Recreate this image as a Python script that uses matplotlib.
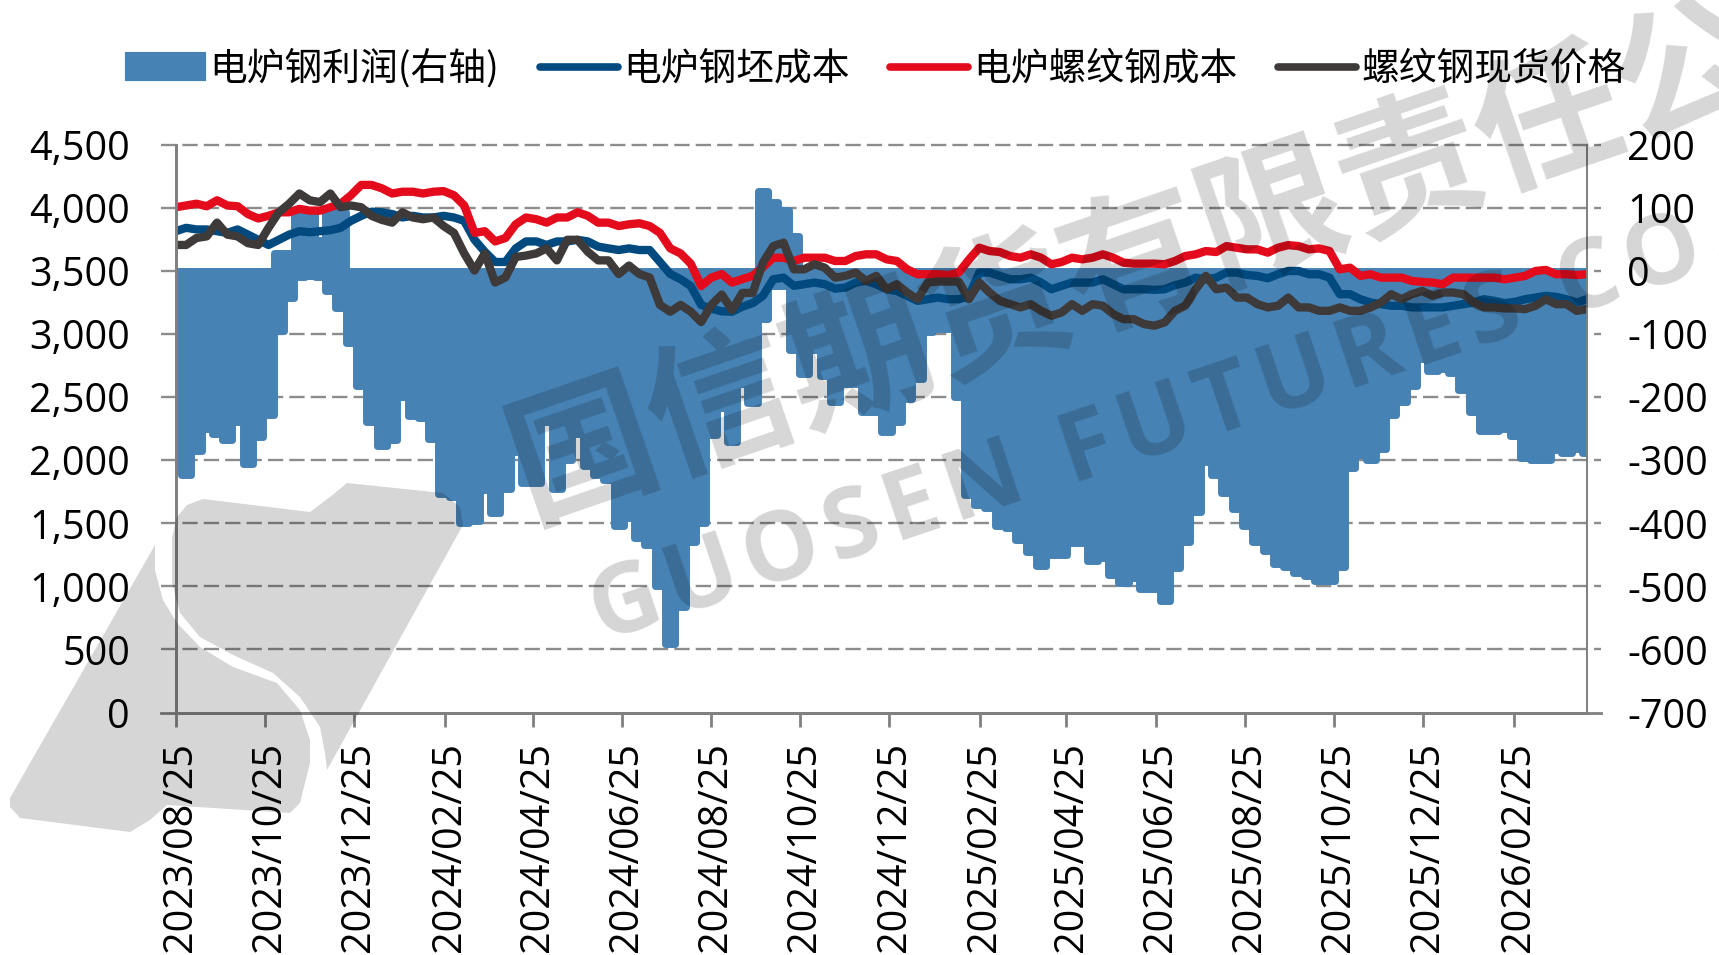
"""Electric-furnace steel profit vs. billet cost, rebar cost and rebar spot price."""

import matplotlib

matplotlib.use("Agg")
import matplotlib.pyplot as plt
import pandas as pd
from matplotlib.lines import Line2D
from matplotlib.patches import Patch, Polygon
from matplotlib.transforms import ScaledTranslation

START_DATE = "2023-08-25"
END_DATE = "2026-04-16"
PROFIT_LABEL = "电炉钢利润(右轴)"
BILLET_LABEL = "电炉钢坯成本"
REBAR_LABEL = "电炉螺纹钢成本"
SPOT_LABEL = "螺纹钢现货价格"

# roughly weekly readings, lower edge of the profit area (right axis)
profit_low = [
    -315, -323, -285, -250, -258, -268, -239, -306, -263, -228,
    -95, -43, -10, -8, -10, -32, -59, -114, -182, -239,
    -277, -268, -200, -230, -233, -266, -353, -358, -399, -396,
    -347, -383, -345, -287, -336, -336, -239, -345, -300, -258,
    -309, -323, -331, -404, -391, -423, -434, -500, -592, -532,
    -429, -399, -260, -217, -271, -179, -209, -76, -24, -24,
    -126, -163, -126, -166, -208, -179, -179, -224, -224, -255,
    -239, -203, -171, -97, -92, -92, -200, -355, -371, -376,
    -405, -408, -426, -445, -468, -450, -450, -432, -432, -460,
    -455, -482, -495, -487, -505, -505, -524, -471, -429, -382,
    -303, -324, -352, -378, -405, -430, -444, -465, -469, -479,
    -483, -491, -491, -470, -313, -292, -300, -282, -229, -208,
    -182, -139, -158, -155, -161, -189, -224, -253, -253, -250,
    -261, -297, -300, -300, -284, -289, -282, -289,
]
# upper edge, only above zero around the two positive spells
profit_high = [
    0, 0, 0, 0, 0, 0, 0, 0, 0, 0,
    28, 28, 93, 93, 49, 93, 93, 0, 0, 0,
    0, 0, 0, 0, 0, 0, 0, 0, 0, 0,
    0, 0, 0, 0, 0, 0, 0, 0, 0, 0,
    0, 0, 0, 0, 0, 0, 0, 0, 0, 0,
    0, 0, 0, 0, 0, 0, 0, 126, 110, 97,
    55, 0, 0, 0, 0, 0, 0, 0, 0, 0,
    0, 0, 0, 0, 0, 0, 0, 0, 0, 0,
    0, 0, 0, 0, 0, 0, 0, 0, 0, 0,
    0, 0, 0, 0, 0, 0, 0, 0, 0, 0,
    0, 0, 0, 0, 0, 0, 0, 0, 0, 0,
    0, 0, 0, 0, 0, 0, 0, 0, 0, 0,
    0, 0, 0, 0, 0, 0, 0, 0, 0, 0,
    0, 0, 0, 0, 0, 0, 0, 0,
]
billet_cost = [
    3815, 3842, 3829, 3829, 3815, 3802, 3829, 3788, 3747, 3706,
    3747, 3788, 3815, 3807, 3815, 3823, 3842, 3897, 3937, 3970,
    3965, 3951, 3924, 3937, 3924, 3924, 3937, 3924, 3897, 3747,
    3652, 3571, 3571, 3679, 3734, 3734, 3706, 3734, 3734, 3747,
    3734, 3693, 3679, 3666, 3679, 3666, 3666, 3571, 3476, 3435,
    3380, 3231, 3200, 3180, 3177, 3217, 3245, 3303, 3434, 3447,
    3382, 3395, 3408, 3395, 3360, 3368, 3408, 3421, 3395, 3355,
    3342, 3303, 3263, 3276, 3289, 3276, 3276, 3300, 3487, 3487,
    3461, 3434, 3434, 3447, 3408, 3355, 3382, 3408, 3408, 3408,
    3434, 3395, 3355, 3355, 3355, 3350, 3355, 3387, 3408, 3447,
    3434, 3447, 3487, 3487, 3468, 3461, 3442, 3474, 3500, 3500,
    3474, 3474, 3447, 3316, 3316, 3276, 3250, 3237, 3224, 3224,
    3211, 3211, 3211, 3211, 3224, 3237, 3250, 3276, 3263, 3245,
    3255, 3276, 3289, 3303, 3295, 3276, 3250, 3276,
]
rebar_cost = [
    4005, 4019, 4033, 4013, 4060, 4019, 4013, 3951, 3916, 3937,
    3965, 3965, 3992, 3978, 3978, 4005, 4033, 4100, 4182, 4182,
    4155, 4114, 4128, 4128, 4114, 4128, 4133, 4100, 4019, 3802,
    3815, 3734, 3761, 3870, 3924, 3910, 3883, 3924, 3924, 3965,
    3937, 3883, 3883, 3856, 3870, 3878, 3856, 3802, 3679, 3639,
    3557, 3380, 3448, 3475, 3408, 3435, 3462, 3530, 3605, 3605,
    3579, 3605, 3605, 3605, 3579, 3579, 3618, 3632, 3632, 3592,
    3579, 3513, 3474, 3474, 3474, 3468, 3487, 3590, 3684, 3658,
    3650, 3618, 3605, 3632, 3605, 3553, 3571, 3605, 3592, 3605,
    3632, 3605, 3566, 3558, 3558, 3558, 3553, 3579, 3618, 3632,
    3658, 3650, 3697, 3684, 3671, 3671, 3645, 3684, 3705, 3697,
    3671, 3679, 3658, 3513, 3526, 3461, 3474, 3447, 3447, 3447,
    3421, 3413, 3408, 3395, 3447, 3447, 3447, 3447, 3447, 3434,
    3447, 3461, 3500, 3508, 3474, 3474, 3468, 3474,
]
spot_price = [
    3706, 3706, 3761, 3774, 3883, 3788, 3774, 3720, 3706, 3842,
    3965, 4033, 4114, 4060, 4046, 4114, 4005, 4019, 4005, 3937,
    3905, 3883, 3965, 3924, 3910, 3924, 3856, 3802, 3639, 3503,
    3639, 3408, 3448, 3611, 3622, 3639, 3679, 3584, 3747, 3747,
    3652, 3584, 3584, 3476, 3543, 3476, 3448, 3231, 3177, 3231,
    3177, 3095, 3231, 3313, 3190, 3326, 3326, 3566, 3697, 3724,
    3513, 3513, 3553, 3526, 3447, 3461, 3487, 3421, 3461, 3355,
    3395, 3329, 3276, 3408, 3416, 3416, 3416, 3276, 3408, 3329,
    3263, 3237, 3211, 3237, 3184, 3145, 3171, 3237, 3184, 3237,
    3224, 3158, 3118, 3118, 3079, 3066, 3092, 3184, 3224, 3355,
    3461, 3355, 3368, 3289, 3289, 3237, 3211, 3224, 3289, 3211,
    3211, 3184, 3184, 3211, 3184, 3184, 3211, 3250, 3316, 3276,
    3316, 3342, 3303, 3329, 3329, 3316, 3250, 3211, 3211, 3203,
    3203, 3197, 3224, 3276, 3237, 3237, 3184, 3197,
]

left_ticks = [0, 500, 1000, 1500, 2000, 2500, 3000, 3500, 4000, 4500]
right_ticks = [-700, -600, -500, -400, -300, -200, -100, 0, 100, 200]
date_ticks = pd.date_range(START_DATE, "2026-02-25", freq=pd.DateOffset(months=2))

WATERMARK_CN = "国信期货有限责任公司"
WATERMARK_EN = "\u200a".join("GUOSEN FUTURES CO.,")

# logo outline in figure pixels, y from the top
logo_upper = [
    (187, 505), (203, 499), (310, 512), (330, 497), (347, 483), (443, 493),
    (460, 507), (463, 525), (327, 770), (325, 753), (320, 727), (300, 697),
    (273, 673), (233, 655), (200, 637), (180, 613), (172, 583), (172, 537),
    (177, 517),
]
logo_lower = [
    (155, 545), (155, 570), (163, 600), (177, 623), (200, 647), (233, 667),
    (277, 683), (300, 710), (310, 740), (310, 763), (300, 803), (290, 813),
    (167, 805), (150, 820), (130, 832), (20, 818), (10, 807), (10, 798),
]

WIDTH, HEIGHT = 1719, 955
FILL_COLOR = "#4682B4"
BILLET_COLOR = "#004A80"
REBAR_COLOR = "#E30B1C"
SPOT_COLOR = "#3F3A3A"
AXIS_COLOR = "#808080"

plt.rcParams["font.family"] = ["Open Sans", "Noto Sans CJK SC", "DejaVu Sans"]
plt.rcParams["lines.scale_dashes"] = False

dates = pd.date_range(START_DATE, END_DATE, periods=len(profit_low))

fig = plt.figure(figsize=(WIDTH / 100, HEIGHT / 100), dpi=100)
ax_r = fig.add_axes(
    [175.8 / WIDTH, 1 - 712.5 / HEIGHT, (1587 - 175.8) / WIDTH, (712.5 - 144.8) / HEIGHT]
)
ax_l = ax_r.twinx()
ax_l.yaxis.tick_left()
ax_r.yaxis.tick_right()
ax_l.set_zorder(2)
ax_l.patch.set_visible(False)

# gridlines run past both axes, so they stand in for the y ticks too
for tick in right_ticks[1:]:
    ax_r.plot(
        [-0.0102, 1.0102],
        [tick, tick],
        transform=ax_r.get_yaxis_transform(),
        color="#8c8c8c",
        linewidth=1.7,
        linestyle=(0, (11, 4.4)),
        clip_on=False,
        zorder=0.5,
    )
ax_r.plot(
    [-0.0102, 1.0102],
    [right_ticks[0], right_ticks[0]],
    transform=ax_r.get_yaxis_transform(),
    color=AXIS_COLOR,
    linewidth=2,
    clip_on=False,
    zorder=0.5,
)

ax_r.fill_between(
    dates,
    profit_low,
    profit_high,
    step="mid",
    facecolor=FILL_COLOR,
    edgecolor=FILL_COLOR,
    linewidth=5,
    joinstyle="round",
    zorder=2,
)
for values, color in [
    (billet_cost, BILLET_COLOR),
    (rebar_cost, REBAR_COLOR),
    (spot_price, SPOT_COLOR),
]:
    ax_l.plot(dates, values, color=color, linewidth=6, solid_joinstyle="round")

ax_l.set_ylim(0, 4500)
ax_r.set_ylim(-700, 200)
ax_r.set_xlim(dates[0], dates[-1])
ax_l.set_yticks(left_ticks, [f"{tick:,}" for tick in left_ticks])
ax_r.set_yticks(right_ticks, [str(tick) for tick in right_ticks])
ax_r.set_xticks(date_ticks, [d.strftime("%Y/%m/%d") for d in date_ticks])

ax_l.tick_params(axis="y", length=0, pad=33, labelsize=28.5, colors="black")
ax_r.tick_params(axis="y", length=0, pad=29, labelsize=28.5, colors="black")
ax_r.tick_params(
    axis="x", length=10, width=2, color=AXIS_COLOR, pad=11, labelsize=28.5,
    labelrotation=90,
)
# date labels sit a little right of their ticks
for label in ax_r.get_xticklabels():
    label.set_transform(
        label.get_transform() + ScaledTranslation(0.05, 0, fig.dpi_scale_trans)
    )

for axis in (ax_l, ax_r):
    axis.spines["top"].set_visible(False)
    axis.spines["left"].set_color(AXIS_COLOR)
    axis.spines["left"].set_linewidth(2)
    axis.spines["right"].set_color(AXIS_COLOR)
    axis.spines["right"].set_linewidth(1.3)
    axis.spines["bottom"].set_color(AXIS_COLOR)
    axis.spines["bottom"].set_linewidth(2)

handles = [
    Patch(
        facecolor=FILL_COLOR, edgecolor=FILL_COLOR, linewidth=3,
        joinstyle="round", label=PROFIT_LABEL,
    ),
    Line2D(
        [], [], color=BILLET_COLOR, linewidth=5.5, solid_capstyle="round",
        label=BILLET_LABEL,
    ),
    Line2D(
        [], [], color=REBAR_COLOR, linewidth=5.5, solid_capstyle="round",
        label=REBAR_LABEL,
    ),
    Line2D(
        [], [], color=SPOT_COLOR, linewidth=5.5, solid_capstyle="round",
        label=SPOT_LABEL,
    ),
]
fig.legend(
    handles=handles,
    loc="center left",
    bbox_to_anchor=(127 / WIDTH, 1 - 69 / HEIGHT),
    ncol=4,
    frameon=False,
    prop={"family": ["Noto Sans CJK SC", "DejaVu Sans"], "size": 27.2},
    handlelength=2.05,
    handleheight=0.62,
    handletextpad=0.14,
    columnspacing=1.08,
    borderpad=0,
    borderaxespad=0,
)

# watermark sits over everything in the plot
for outline in (logo_upper, logo_lower):
    fig.add_artist(
        Polygon(
            [(x / WIDTH, 1 - y / HEIGHT) for x, y in outline],
            closed=True,
            transform=fig.transFigure,
            facecolor="black",
            edgecolor="none",
            alpha=0.16,
            zorder=10,
        )
    )
fig.text(
    1205 / WIDTH,
    1 - 240 / HEIGHT,
    WATERMARK_CN,
    family=["Noto Sans CJK SC", "DejaVu Sans"],
    fontsize=105,
    fontweight="bold",
    color="black",
    alpha=0.16,
    rotation=19,
    rotation_mode="anchor",
    ha="center",
    va="center",
    zorder=10,
)
fig.text(
    1182 / WIDTH,
    1 - 420 / HEIGHT,
    WATERMARK_EN,
    family=["Open Sans", "DejaVu Sans"],
    fontsize=69,
    fontweight="bold",
    color="black",
    alpha=0.17,
    rotation=18.6,
    rotation_mode="anchor",
    ha="center",
    va="center",
    zorder=10,
)

fig.savefig("out.png", dpi=100)
plt.close(fig)
